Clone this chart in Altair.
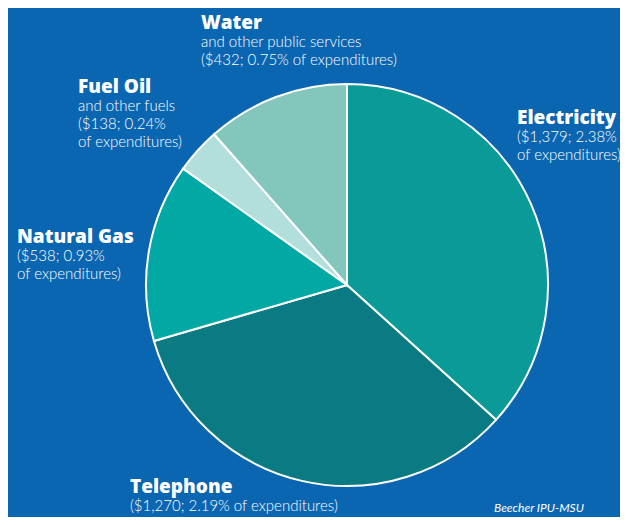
import altair as alt
import pandas as pd

# ---- data ----
categories = ["Electricity", "Telephone", "Natural Gas", "Fuel Oil", "Water"]
values = [1379, 1270, 538, 138, 432]
percents = ["2.38", "2.19", "0.93", "0.24", "0.75"]
colors = ["#0a9a97", "#0a7b82", "#02a9a4", "#b2dedb", "#82c6bc"]

df = pd.DataFrame({
    "category": categories,
    "value": values,
    "order": list(range(len(categories))),
})

BG = "#0b66b1"
TITLE_FONT = "Open Sans"
BODY_FONT = "Lato"

pie = alt.Chart(df).mark_arc(radius=201, stroke="white", strokeWidth=2).encode(
    theta=alt.Theta("value:Q", stack=True),
    order=alt.Order("order:Q"),
    color=alt.Color("category:N", scale=alt.Scale(domain=categories, range=colors), legend=None),
    x=alt.value(339),
    y=alt.value(277),
)


def money(v):
    return f"${v:,}"


def block(x, y, title, lines, align="left", gap=18, step=18):
    layers = [
        alt.Chart(pd.DataFrame({"t": [title]})).mark_text(
            align=align, baseline="alphabetic", font=TITLE_FONT, fontSize=19,
            fontWeight=800, color="white"
        ).encode(text="t:N", x=alt.value(x), y=alt.value(y))
    ]
    for i, ln in enumerate(lines):
        layers.append(
            alt.Chart(pd.DataFrame({"t": [ln]})).mark_text(
                align=align, baseline="alphabetic", font=BODY_FONT, fontSize=15,
                fontWeight=300, color="white"
            ).encode(text="t:N", x=alt.value(x), y=alt.value(y + gap + step * i))
        )
    return layers


i = {c: k for k, c in enumerate(categories)}
labels = []
labels += block(193, 21, "Water", ["and other public services",
                                    f"({money(values[i['Water']])}; {percents[i['Water']]}% of expenditures)"])
labels += block(70, 85, "Fuel Oil", ["and other fuels",
                                      f"({money(values[i['Fuel Oil']])}; {percents[i['Fuel Oil']]}%",
                                      "of expenditures)"])
labels += block(509, 116, "Electricity", [f"({money(values[i['Electricity']])}; {percents[i['Electricity']]}%",
                                           "of expenditures)"])
labels += block(9, 235, "Natural Gas", [f"({money(values[i['Natural Gas']])}; {percents[i['Natural Gas']]}%",
                                         "of expenditures)"])
labels += block(122, 485, "Telephone", [f"({money(values[i['Telephone']])}; {percents[i['Telephone']]}% of expenditures)"])

credit = alt.Chart(pd.DataFrame({"t": ["Beecher IPU-MSU"]})).mark_text(
    align="left", baseline="alphabetic", font=BODY_FONT, fontSize=12, fontStyle="italic",
    fontWeight="normal", color="white"
).encode(text="t:N", x=alt.value(486), y=alt.value(504))

chart = alt.layer(pie, *labels, credit).properties(
    width=612, height=509, background=BG, padding=0,
    autosize=alt.AutoSizeParams(type="none"),
).configure_view(stroke=None)

chart.save("out.html", embed_options={"renderer": "svg", "actions": False})
